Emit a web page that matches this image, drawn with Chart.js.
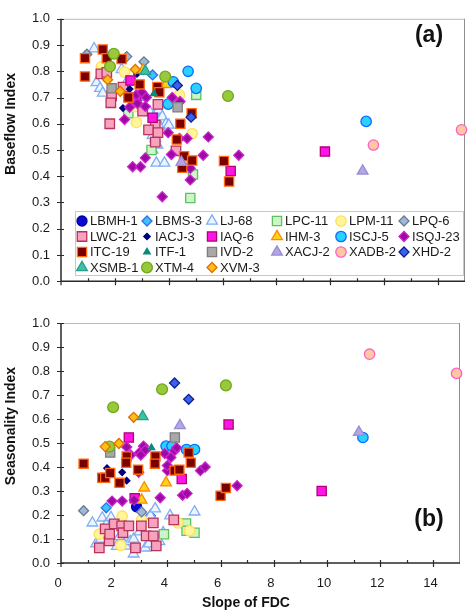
<!DOCTYPE html>
<html>
<head>
<meta charset="utf-8">
<script src="https://cdn.jsdelivr.net/npm/chart.js@4.4.1/dist/chart.umd.min.js"></script>
<style>
  html, body { margin: 0; padding: 0; background: #fff; }
  #wrap { position: relative; width: 473px; height: 615px; }
  canvas { display: block; }
</style>
</head>
<body>
<div id="wrap">
  <canvas id="chartA" width="473" height="300"></canvas>
  <canvas id="chartB" width="473" height="315"></canvas>
</div>
<script>
// --- Dados: estações, pares [slope, valor] por painel ---
const stationNames = ['LBMH-1', 'LBMS-3', 'LJ-68', 'LPC-11', 'LPM-11', 'LPQ-6',
    'LWC-21', 'IACJ-3', 'IAQ-6', 'IHM-3', 'ISCJ-5', 'ISQJ-23',
    'ITC-19', 'ITF-1', 'IVD-2', 'XACJ-2', 'XADB-2', 'XHD-2',
    'XSMB-1', 'XTM-4', 'XVM-3'];

const xTickLabels = [0, 2, 4, 6, 8, 10, 12, 14];
const yTickLabels = ['0.0', '0.1', '0.2', '0.3', '0.4', '0.5', '0.6', '0.7', '0.8', '0.9', '1.0'];

// Painel (a): Baseflow Index
const lbmh1A = [];
const lbms3A = [[3.4, 0.786]];
const lj68A = [[1.23, 0.886], [1.32, 0.757], [1.45, 0.735], [1.55, 0.717], [2.25, 0.807], [2.44, 0.76],
    [2.9, 0.70], [3.3, 0.645], [3.5, 0.634], [3.62, 0.652], [3.54, 0.616], [3.76, 0.627], [3.9, 0.60],
    [3.65, 0.59], [3.4, 0.555], [3.5, 0.544], [3.4, 0.50], [3.58, 0.519], [3.54, 0.45], [3.84, 0.45], [4.0, 0.595]];
const lpc11A = [[3.36, 0.50], [5.02, 0.71], [4.9, 0.407], [4.8, 0.317], [2.5, 0.64]];
const lpm11A = [[1.5, 0.818], [2.36, 0.797], [2.8, 0.605], [4.4, 0.71], [4.87, 0.562], [2.75, 0.665]];
const lpq6A = [[0.96, 0.865], [2.44, 0.856], [3.08, 0.836]];
const lwc21A = [[1.48, 0.79], [1.7, 0.796], [1.88, 0.706], [1.85, 0.68], [1.81, 0.60], [2.3, 0.74],
    [3.6, 0.674], [3.03, 0.648], [3.5, 0.595], [3.25, 0.577], [3.6, 0.566], [3.5, 0.53], [4.27, 0.497]];
const iacj3A = [[2.55, 0.732], [2.3, 0.66], [2.82, 0.79]];
const iaq6A = [[2.58, 0.765], [2.8, 0.70], [3.4, 0.623], [6.3, 0.42], [9.8, 0.494]];
const ihm3A = [[3.9, 0.75], [3.05, 0.805]];
const iscj5A = [[4.72, 0.80], [4.17, 0.76], [5.02, 0.735], [3.98, 0.675], [11.33, 0.609]];
const isqj23A = [[2.36, 0.616], [2.55, 0.663], [2.8, 0.71], [3.0, 0.72], [3.17, 0.70], [3.13, 0.666],
    [2.84, 0.677], [4.13, 0.70], [4.42, 0.685], [3.98, 0.566], [4.4, 0.544], [4.68, 0.544], [5.47, 0.55],
    [5.28, 0.48], [4.1, 0.483], [3.13, 0.470], [6.6, 0.48], [2.66, 0.436], [2.95, 0.436], [4.8, 0.43],
    [4.8, 0.386], [3.76, 0.322]];
const itc19A = [[0.89, 0.85], [0.89, 0.78], [1.55, 0.883], [1.7, 0.85], [2.25, 0.847], [2.5, 0.70],
    [2.92, 0.75], [3.58, 0.74], [3.65, 0.72], [4.43, 0.60], [4.3, 0.54], [4.57, 0.476], [4.87, 0.46],
    [4.85, 0.64], [6.05, 0.458], [4.5, 0.432], [6.24, 0.38]];
const itf1A = [[3.45, 0.715]];
const ivd2A = [[1.88, 0.735], [4.33, 0.663]];
const xacj2A = [[4.47, 0.453], [11.2, 0.42]];
const xadb2A = [[11.6, 0.519], [14.87, 0.577]];
const xhd2A = [[4.32, 0.746], [4.83, 0.625]];
const xsmb1A = [[3.13, 0.80]];
const xtm4A = [[1.96, 0.867], [1.82, 0.818], [3.87, 0.78], [6.2, 0.706]];
const xvm3A = [[1.73, 0.768], [2.2, 0.724], [2.76, 0.807]];

// Painel (b): Seasonality Index
const lbmh1B = [[2.84, 0.234]];
const lbms3B = [[1.7, 0.23], [3.36, 0.197]];
const lj68B = [[1.18, 0.167], [1.32, 0.08], [1.55, 0.188], [1.7, 0.16], [1.88, 0.19], [2.1, 0.07],
    [2.43, 0.071], [2.6, 0.09], [2.73, 0.038], [2.73, 0.1], [2.95, 0.13], [3.17, 0.063], [3.3, 0.08],
    [3.36, 0.197], [3.54, 0.226], [3.84, 0.126], [4.1, 0.197], [5.02, 0.213], [3.7, 0.09], [2.2, 0.11], [1.5, 0.1]];
const lpc11B = [[4.7, 0.165], [4.72, 0.134], [5.02, 0.126], [3.87, 0.12]];
const lpm11B = [[1.44, 0.12], [2.3, 0.195], [2.25, 0.073], [3.03, 0.18], [4.4, 0.167], [4.83, 0.134]];
const lpq6B = [[0.85, 0.218], [3.03, 0.213]];
const lwc21B = [[1.44, 0.063], [1.66, 0.142], [1.81, 0.092], [1.83, 0.12], [2.0, 0.163], [2.28, 0.155],
    [2.33, 0.126], [2.55, 0.155], [2.8, 0.063], [3.02, 0.155], [3.2, 0.113], [3.47, 0.113], [3.47, 0.167],
    [3.58, 0.071], [4.24, 0.18]];
const iacj3B = [[1.73, 0.395], [2.3, 0.378], [2.47, 0.343]];
const iaq6B = [[2.55, 0.523], [2.77, 0.27], [4.54, 0.35], [6.3, 0.577], [9.8, 0.30]];
const ihm3B = [[3.13, 0.313], [3.03, 0.262], [3.95, 0.334]];
const iscj5B = [[3.95, 0.487], [4.17, 0.487], [4.72, 0.473], [5.02, 0.473], [11.35, 0.523]];
const isqj23B = [[2.47, 0.483], [2.95, 0.46], [3.1, 0.487], [3.17, 0.47], [3.9, 0.456], [4.13, 0.44],
    [4.27, 0.468], [4.35, 0.48], [4.0, 0.385], [4.38, 0.385], [5.24, 0.385], [5.42, 0.40], [1.92, 0.258],
    [2.3, 0.258], [2.75, 0.262], [3.73, 0.272], [4.57, 0.282], [4.74, 0.29], [6.62, 0.322], [2.92, 0.378],
    [4.0, 0.406], [2.62, 0.45], [3.0, 0.45]];
const itc19B = [[0.85, 0.414], [1.55, 0.355], [1.66, 0.355], [1.85, 0.375], [2.2, 0.334], [2.47, 0.444],
    [2.45, 0.418], [2.9, 0.389], [3.55, 0.444], [3.53, 0.414], [4.27, 0.385], [4.45, 0.389], [4.8, 0.46],
    [4.88, 0.418], [6.0, 0.28], [6.2, 0.313]];
const itf1B = [[3.4, 0.48]];
const ivd2B = [[1.85, 0.46], [4.28, 0.523]];
const xacj2B = [[4.47, 0.573], [11.2, 0.545]];
const xadb2B = [[11.6, 0.87], [14.87, 0.79]];
const xhd2B = [[4.27, 0.75], [4.8, 0.682]];
const xsmb1B = [[3.07, 0.61]];
const xtm4B = [[1.96, 0.649], [3.8, 0.724], [6.2, 0.74], [1.82, 0.485]];
const xvm3B = [[1.66, 0.485], [2.18, 0.498], [2.73, 0.607]];

const baseflowSeries = [lbmh1A, lbms3A, lj68A, lpc11A, lpm11A, lpq6A, lwc21A, iacj3A, iaq6A, ihm3A, iscj5A,
    isqj23A, itc19A, itf1A, ivd2A, xacj2A, xadb2A, xhd2A, xsmb1A, xtm4A, xvm3A];
const seasonalitySeries = [lbmh1B, lbms3B, lj68B, lpc11B, lpm11B, lpq6B, lwc21B, iacj3B, iaq6B, ihm3B, iscj5B,
    isqj23B, itc19B, itf1B, ivd2B, xacj2B, xadb2B, xhd2B, xsmb1B, xtm4B, xvm3B];

// --- Estilos dos marcadores ---
const markerShapes = ['circle', 'rectRot', 'triangle', 'rect', 'circle', 'rectRot',
    'rect', 'rectRot', 'rect', 'triangle', 'circle', 'rectRot',
    'rect', 'triangle', 'rect', 'triangle', 'circle', 'rectRot',
    'triangle', 'circle', 'rectRot'];
const markerSizes = [5, 5, 6.2, 6.5, 5.2, 5, 6.7, 3.2, 6.5, 6.2, 5.2, 5, 6.5, 3.8, 6.5, 6.2, 5.2, 5, 6.2, 5.4, 5];
const markerFills = ['#0a0ad6', '#3cc3fa', '#eef4ff', '#ccf5c8', '#fff59a', '#9fb8d8',
    '#f7a3c0', '#00007e', '#ff14e6', '#ffd21e', '#2cd0ff', '#9c0aa3',
    '#7a0000', '#0c8a7c', '#a8a8a8', '#b3a5e6', '#ffc8a0', '#3a62ee',
    '#3ec2a4', '#98c93a', '#ffbd1a'];
const markerEdges = ['#00009a', '#2f6fe8', '#7faef5', '#5fc05f', '#ffe05a', '#6a7b8f',
    '#b8325a', '#00007e', '#b0007a', '#ff8a00', '#0a6cff', '#cc22cc',
    '#ff6a10', '#0c8a7c', '#7e7e7e', '#9a8cd2', '#ff5fc8', '#10208f',
    '#27a08a', '#72a81e', '#e07000'];

const FONT = "'Liberation Sans', Arial, sans-serif";

// --- Plugins ---
function drawMarker(ctx, i, x, y) {
    ctx.fillStyle = markerFills[i];
    ctx.strokeStyle = markerEdges[i];
    ctx.lineWidth = 1.3;
    Chart.helpers.drawPoint(ctx, { pointStyle: markerShapes[i], radius: markerSizes[i], rotation: 0, borderWidth: 1.3 }, x, y);
}

const framePlugin = {
    id: 'frame',
    beforeDatasetsDraw(chart) {
        const { ctx, chartArea: a, scales: { x, y } } = chart;
        ctx.save();
        ctx.strokeStyle = '#b9b9b9';
        ctx.lineWidth = 1;
        ctx.beginPath();
        ctx.moveTo(a.left, a.top + 0.5);
        ctx.lineTo(a.right - 0.5, a.top + 0.5);
        ctx.stroke();
        ctx.strokeStyle = '#8e8e8e';
        ctx.beginPath();
        ctx.moveTo(a.right - 0.5, a.top);
        ctx.lineTo(a.right - 0.5, a.bottom);
        ctx.stroke();

        ctx.strokeStyle = '#2a2a2a';
        ctx.lineWidth = 1.5;
        ctx.beginPath();
        ctx.moveTo(a.left, a.top);
        ctx.lineTo(a.left, a.bottom);
        ctx.lineTo(a.right, a.bottom);
        ctx.stroke();

        // marcas dos eixos
        ctx.lineWidth = 1.2;
        ctx.beginPath();
        yTickLabels.forEach(lbl => {
            const py = Math.round(y.getPixelForValue(parseFloat(lbl))) + 0.5;
            ctx.moveTo(a.left - 4, py);
            ctx.lineTo(a.left + 3, py);
        });
        for (let v = 1; v < 15; v++) {
            const px = Math.round(x.getPixelForValue(v)) + 0.5;
            const major = xTickLabels.includes(v);
            ctx.moveTo(px, a.bottom - 3);
            ctx.lineTo(px, major ? a.bottom + 4 : a.bottom);
        }
        ctx.moveTo(a.left, a.bottom);
        ctx.lineTo(a.left, a.bottom + 4);
        ctx.stroke();
        ctx.restore();
    }
};

const textPlugin = {
    id: 'panelText',
    afterDraw(chart, args, opts) {
        const { ctx } = chart;
        ctx.save();
        ctx.fillStyle = '#111';
        ctx.textAlign = 'center';
        ctx.textBaseline = 'middle';
        ctx.font = `bold 14px ${FONT}`;
        ctx.save();
        ctx.translate(opts.yTitleX, opts.yTitleY);
        ctx.rotate(-Math.PI / 2);
        ctx.fillText(opts.yTitle, 0, 0);
        ctx.restore();
        if (opts.xTitle) ctx.fillText(opts.xTitle, opts.xTitleX, opts.xTitleY);
        ctx.font = `bold 23px ${FONT}`;
        ctx.fillText(opts.tag, opts.tagX, opts.tagY);
        ctx.restore();
    }
};

const legendPlugin = {
    id: 'boxLegend',
    afterDraw(chart, args, opts) {
        if (!opts.show) return;
        const { ctx } = chart;
        ctx.save();
        ctx.fillStyle = '#fff';
        ctx.fillRect(75, 211, 388, 64);
        ctx.strokeStyle = '#c8c8c8';
        ctx.lineWidth = 1;
        ctx.strokeRect(75.5, 211.5, 388, 64);
        ctx.font = `13px ${FONT}`;
        ctx.textBaseline = 'middle';
        ctx.textAlign = 'left';
        const colX = [82, 147, 212, 277, 341, 404];
        const rowY = [221, 236.5, 252, 267.5];
        stationNames.forEach((name, i) => {
            const cx = colX[i % 6];
            const cy = rowY[Math.floor(i / 6)];
            drawMarker(ctx, i, cx, cy);
            ctx.fillStyle = '#1a1a1a';
            ctx.fillText(name, cx + 8, cy + 0.5);
        });
        ctx.restore();
    }
};

function buildDatasets(series) {
    return stationNames.map((name, i) => ({
        label: name,
        data: series[i].map(([sx, sy]) => ({ x: sx, y: sy })),
        showLine: false,
        pointStyle: markerShapes[i],
        pointRadius: markerSizes[i],
        pointBorderWidth: 1.3,
        backgroundColor: markerFills[i],
        borderColor: markerEdges[i],
        clip: false,
        order: stationNames.length - i
    }));
}

function buildOptions(cfg) {
    return {
        responsive: false,
        animation: false,
        events: [],
        layout: { padding: { left: 0, right: 6, top: cfg.top, bottom: 0 } },
        scales: {
            x: {
                type: 'linear', min: 0, max: 15,
                afterFit: s => { s.height = cfg.xHeight; },
                grid: { display: false, drawTicks: false },
                border: { display: false },
                ticks: {
                    display: cfg.xLabels, stepSize: 1, autoSkip: false, maxRotation: 0,
                    padding: 13, labelOffset: -3,
                    color: '#1a1a1a', font: { family: FONT, size: 13 },
                    callback: v => xTickLabels.includes(v) ? String(v) : ''
                }
            },
            y: {
                type: 'linear', min: 0, max: 1,
                afterFit: s => { s.width = 61; },
                grid: { display: false, drawTicks: false },
                border: { display: false },
                ticks: {
                    stepSize: 0.1, padding: 11,
                    color: '#1a1a1a', font: { family: FONT, size: 13 },
                    callback: v => yTickLabels[Math.round(v * 10)]
                }
            }
        },
        plugins: {
            legend: { display: false },
            tooltip: { enabled: false },
            boxLegend: { show: cfg.legend },
            panelText: cfg.text
        }
    };
}

new Chart(document.getElementById('chartA'), {
    type: 'scatter',
    data: { datasets: buildDatasets(baseflowSeries) },
    options: buildOptions({
        top: 7, xHeight: 17, xLabels: false, legend: true,
        text: { yTitle: 'Baseflow Index', yTitleX: 11, yTitleY: 124, tag: '(a)', tagX: 429, tagY: 36 }
    }),
    plugins: [framePlugin, legendPlugin, textPlugin]
});

new Chart(document.getElementById('chartB'), {
    type: 'scatter',
    data: { datasets: buildDatasets(seasonalitySeries) },
    options: buildOptions({
        top: 23, xHeight: 52, xLabels: true, legend: false,
        text: { yTitle: 'Seasonality Index', yTitleX: 11, yTitleY: 126, xTitle: 'Slope of FDC', xTitleX: 246, xTitleY: 303,
            tag: '(b)', tagX: 429, tagY: 220 }
    }),
    plugins: [framePlugin, legendPlugin, textPlugin]
});
</script>
</body>
</html>
